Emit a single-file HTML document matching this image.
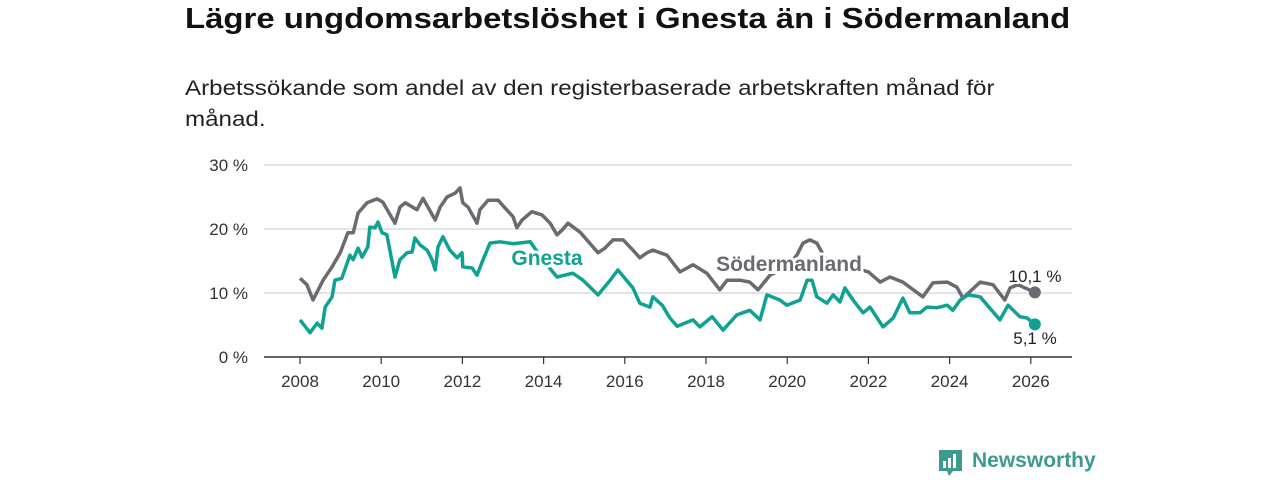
<!DOCTYPE html>
<html><head><meta charset="utf-8">
<style>
body{margin:0;background:#fff;width:1280px;height:480px;overflow:hidden;font-family:"Liberation Sans",sans-serif;}
#title{position:absolute;left:185px;top:3px;font-size:29px;font-weight:bold;color:#111;white-space:nowrap;transform:scaleX(1.135);transform-origin:0 0;}
#sub{position:absolute;left:185px;top:73px;font-size:21px;line-height:31px;color:#222;width:745px;transform:scaleX(1.15);transform-origin:0 0;}
svg{position:absolute;left:0;top:0;}
</style></head>
<body>
<div id="title">Lägre ungdomsarbetslöshet i Gnesta än i Södermanland</div>
<div id="sub">Arbetssökande som andel av den registerbaserade arbetskraften månad för månad.</div>
<svg id="chart" width="1280" height="480"></svg>
<script>
const yTicks=[0,10,20,30];
const yTickLabels=["0 %","10 %","20 %","30 %"];
const xTicks=[2008,2010,2012,2014,2016,2018,2020,2022,2024,2026];
const gnestaDates=[2008.00,2008.25,2008.42,2008.54,2008.62,2008.79,2008.86,2009.03,2009.23,2009.31,2009.43,2009.53,2009.67,2009.72,2009.85,2009.92,2010.02,2010.14,2010.34,2010.46,2010.64,2010.76,2010.83,2010.96,2011.13,2011.25,2011.33,2011.40,2011.52,2011.69,2011.87,2011.99,2012.01,2012.24,2012.36,2012.51,2012.68,2012.93,2013.25,2013.67,2014.03,2014.33,2014.72,2014.97,2015.34,2015.64,2015.83,2016.20,2016.37,2016.62,2016.69,2016.92,2017.11,2017.29,2017.68,2017.85,2018.15,2018.42,2018.76,2019.08,2019.33,2019.50,2019.82,2019.99,2020.32,2020.49,2020.61,2020.73,2020.98,2021.13,2021.30,2021.42,2021.62,2021.87,2022.04,2022.36,2022.61,2022.85,2023.02,2023.27,2023.44,2023.69,2023.94,2024.08,2024.26,2024.45,2024.75,2025.24,2025.44,2025.73,2025.91,2026.10];
const gnestaValues=[5.8,3.8,5.3,4.5,7.8,9.4,12.0,12.3,15.9,15.2,17.0,15.6,17.2,20.3,20.2,21.1,19.4,19.1,12.5,15.2,16.3,16.4,18.6,17.5,16.7,15.2,13.6,17.2,18.8,16.7,15.5,16.3,14.1,13.9,12.8,15.2,17.8,18.0,17.7,18.0,14.8,12.5,13.1,12.0,9.7,12.0,13.6,10.8,8.4,7.8,9.4,8.1,6.1,4.8,5.8,4.7,6.3,4.2,6.6,7.3,5.8,9.7,8.9,8.1,8.9,12.0,12.0,9.4,8.4,9.7,8.6,10.8,8.9,6.9,7.8,4.7,6.1,9.2,6.9,6.9,7.8,7.7,8.1,7.3,8.9,9.7,9.4,5.8,8.1,6.3,6.1,5.1];
const sodDates=[2008.00,2008.17,2008.32,2008.57,2008.79,2008.99,2009.18,2009.31,2009.43,2009.65,2009.90,2010.04,2010.34,2010.46,2010.59,2010.88,2011.03,2011.33,2011.45,2011.62,2011.82,2011.94,2012.01,2012.14,2012.36,2012.43,2012.63,2012.88,2013.05,2013.25,2013.34,2013.47,2013.71,2013.96,2014.16,2014.33,2014.45,2014.60,2014.90,2015.34,2015.51,2015.71,2015.96,2016.20,2016.37,2016.55,2016.69,2017.04,2017.36,2017.68,2018.02,2018.34,2018.52,2018.84,2019.08,2019.28,2019.58,2019.95,2020.24,2020.39,2020.56,2020.73,2020.93,2021.30,2021.67,2022.00,2022.29,2022.53,2022.85,2023.34,2023.59,2023.94,2024.18,2024.33,2024.75,2025.07,2025.36,2025.49,2025.68,2026.10];
const sodValues=[12.3,11.3,8.9,12.0,14.1,16.3,19.4,19.4,22.5,24.1,24.7,24.2,20.9,23.4,24.1,23.0,24.8,21.4,23.4,25.0,25.6,26.4,24.1,23.4,20.9,23.0,24.5,24.5,23.3,21.9,20.2,21.4,22.7,22.2,20.9,19.1,19.8,20.9,19.5,16.3,17.0,18.3,18.3,16.7,15.5,16.3,16.7,15.9,13.3,14.4,13.1,10.5,12.0,12.0,11.7,10.5,12.8,13.9,15.9,17.8,18.3,17.8,15.5,14.4,13.9,13.3,11.7,12.5,11.7,9.4,11.6,11.7,10.9,9.2,11.7,11.3,8.9,10.8,11.3,10.1];
const NS="http://www.w3.org/2000/svg";
const svg=document.getElementById('chart');
const x=v=>300+(v-2008)*40.6;
const y=v=>357-v*6.4;
function mk(t,a,p){const e=document.createElementNS(NS,t);for(const k in a)e.setAttribute(k,a[k]);(p||svg).appendChild(e);return e;}
yTicks.forEach((t,i)=>{
  if(t>0){const g=mk('line',{x1:264,x2:1072,y1:y(t),y2:y(t),stroke:'#dcdcdc','stroke-width':1.5});
  
  }
  const l=mk('text',{x:248,y:y(t)+6,'text-anchor':'end','font-size':17,fill:'#333','font-family':'Liberation Sans'});
  l.textContent=yTickLabels[i];
  
  
});
const ax=mk('line',{x1:264,x2:1072,y1:357,y2:357,stroke:'#333','stroke-width':1.5});


xTicks.forEach(t=>{
  const tk=mk('line',{x1:x(t),x2:x(t),y1:357,y2:364,stroke:'#333','stroke-width':1.2});
  
  
  const l=mk('text',{x:x(t),y:387,'text-anchor':'middle','font-size':17,fill:'#333','font-family':'Liberation Sans'});
  l.textContent=t;
  
  
});
function line(d,v,col,name){
  const pts=d.map((dd,i)=>x(dd).toFixed(1)+','+y(v[i]).toFixed(1)).join(' ');
  const p=mk('polyline',{points:pts,fill:'none',stroke:col,'stroke-width':3.5,'stroke-linejoin':'round'});
  
  
  const n=d.length-1;
  const c=mk('circle',{cx:x(d[n]),cy:y(v[n]),r:6,fill:col});
  
  
}
line(sodDates,sodValues,'#6b6a70','sodermanland-line');
line(gnestaDates,gnestaValues,'#0fa292','gnesta-line');
function lab(t,xx,yy,col,name,sz,bold,anchor){
  const e=mk('text',{x:xx,y:yy,'text-anchor':anchor||'middle','font-size':sz,'font-weight':bold?'bold':'normal',fill:col,stroke:'#fff','stroke-width':bold?6:4,'paint-order':'stroke','font-family':'Liberation Sans'});
  e.textContent=t;
  
  
}
lab('Gnesta',547,265,'#0fa292','gnesta-label',21,true);
lab('Södermanland',789,271,'#6b6a70','sodermanland-label',21,true);
lab('10,1 %',1035,282,'#222','sodermanland-end-value',17,false);
lab('5,1 %',1035,344,'#222','gnesta-end-value',17,false);
</script>
<div style="position:absolute;left:938px;top:449px;height:28px;">
<svg width="26" height="30" style="position:absolute;left:0;top:0"><path d="M1 1h23v21h-9l-4 5-2-5H1z" fill="#3d9a8e"/><rect x="5" y="12" width="3" height="7" fill="#fff"/><rect x="10" y="9" width="3" height="10" fill="#fff"/><rect x="15" y="5" width="3" height="14" fill="#fff"/></svg>
<span style="position:absolute;left:34px;top:0;font-size:21px;font-weight:bold;color:#3d9a8e;white-space:nowrap;">Newsworthy</span>
</div>
</body></html>
